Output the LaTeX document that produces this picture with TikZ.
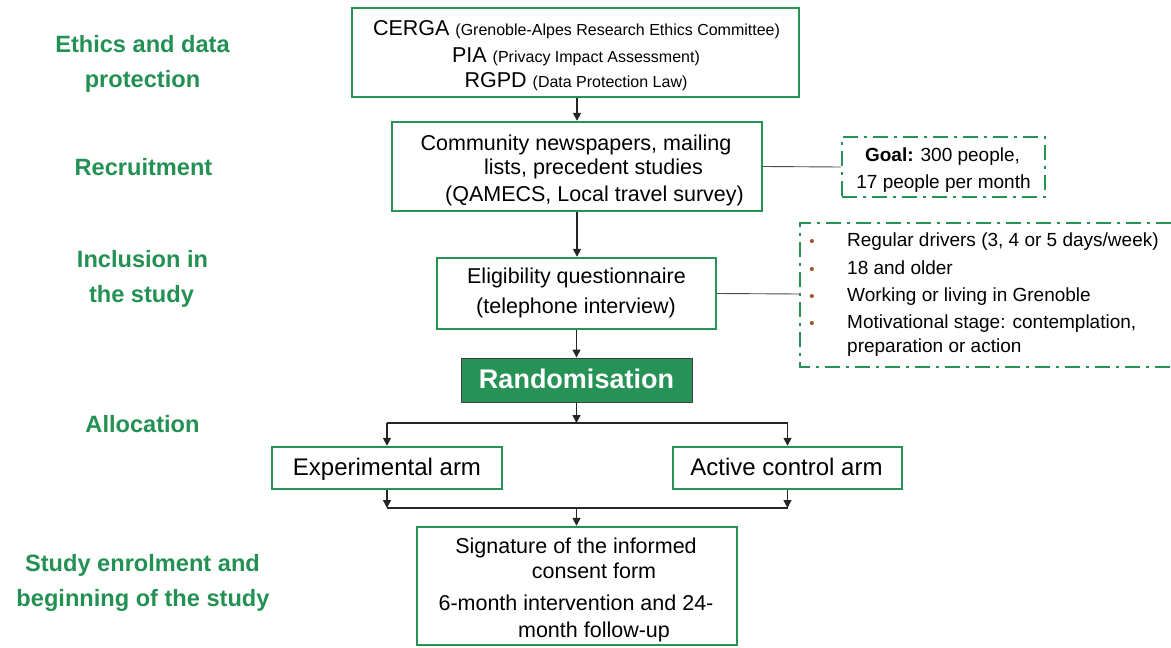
\documentclass[tikz,border=0pt]{standalone}
\usepackage{fontspec}
\setmainfont{Liberation Sans}
\usetikzlibrary{arrows.meta,calc}
\definecolor{G}{RGB}{38,146,86}
\definecolor{Gtext}{RGB}{36,145,84}
\definecolor{bulletbrown}{RGB}{160,82,45}
\newcommand{\fs}[1]{\fontsize{#1}{#1}\selectfont}
\tikzset{
  x=1pt, y=-1pt,
  gbox/.style={draw=G, line width=2.4pt, inner sep=0pt},
  ddbox/.style={draw=G, line width=2.4pt, dash pattern=on 15pt off 6pt on 3pt off 6pt},
  txt/.style={inner sep=0pt, anchor=base, font=\fs{21.5}},
  lab/.style={inner sep=0pt, anchor=base, text=Gtext, font=\fs{23.6}\bfseries},
  crit/.style={inner sep=0pt, anchor=base west, font=\fs{19}},
  bul/.style={inner sep=0pt, anchor=base, text=bulletbrown, font=\fs{15}},
  arr/.style={draw=black!85, line width=1.6pt, -{Triangle[length=8pt,width=8pt]}},
  plain/.style={draw=black!85, line width=2.2pt},
  thin/.style={draw=black!70, line width=0.9pt},
}
\begin{document}
\begin{tikzpicture}
\useasboundingbox[fill=white] (0,0) rectangle (1171,648);

% left stage labels
\node[lab] (l1a) at (142.5,52) {Ethics and data};
\node[lab] (l1b) at (142.5,87) {protection};
\node[lab] (l2) at (143.5,175) {Recruitment};
\node[lab] (l3a) at (142.5,267) {Inclusion in};
\node[lab] (l3b) at (141.5,302) {the study};
\node[lab] (l4) at (142.5,432) {Allocation};
\node[lab] (l5a) at (142.5,571) {Study enrolment and};
\node[lab] (l5b) at (143,606) {beginning of the study};

% boxes
\node[gbox, minimum width=447, minimum height=89] (cerga) at (575.5,52.5) {};
\node[gbox, minimum width=370, minimum height=89] (comm) at (577,166.5) {};
\node[ddbox, minimum width=203, minimum height=60] (goal) at (943.5,167) {};
\node[gbox, minimum width=279, minimum height=71] (elig) at (576.5,293.5) {};
\node[draw=black!75, line width=1pt, fill=G, minimum width=231, minimum height=44] (rand) at (576.5,380) {};
\node[gbox, minimum width=230, minimum height=42] (exp) at (387,468) {};
\node[gbox, minimum width=229, minimum height=42] (act) at (787.5,468) {};
\node[gbox, minimum width=320, minimum height=118] (sig) at (577,586) {};

% criteria box (open on the right, cut by the page edge)
\coordinate (critL) at (800,294);
\draw[ddbox] (1171,223) -- (800,223) -- (800,367) -- (1171,367);

% texts in boxes
\node[txt] (t1) at (576.5,35) {CERGA {\fs{16}(Grenoble-Alpes Research Ethics Committee)}};
\node[txt] (t2) at (576,62) {PIA {\fs{16}(Privacy Impact Assessment)}};
\node[txt] (t3) at (576,87) {RGPD {\fs{16}(Data Protection Law)}};

\node[txt] (c1) at (576,150) {Community newspapers, mailing};
\node[txt] (c2) at (593.5,174) {lists, precedent studies};
\node[txt] (c3) at (594.5,201) {(QAMECS, Local travel survey)};

\node[txt, font=\fs{19}] (g1) at (942.5,161) {\textbf{Goal:} 300 people,};
\node[txt, font=\fs{19}] (g2) at (943.5,188) {17 people per month};

\node[bul] (b1) at (812,246.5) {•};
\node[bul] (b2) at (812,274) {•};
\node[bul] (b3) at (812,301) {•};
\node[bul] (b4) at (812,328) {•};
\node[crit] (k1) at (847,246.5) {Regular drivers (3, 4 or 5 days/week)};
\node[crit] (k2) at (847,274) {18 and older};
\node[crit] (k3) at (847,301) {Working or living in Grenoble};
\node[crit] (k4) at (847,328) {Motivational stage: contemplation,};
\node[crit] (k5) at (847,352) {preparation or action};

\node[txt] (e1) at (576.5,283) {Eligibility questionnaire};
\node[txt] (e2) at (576,313) {(telephone interview)};

\node[txt, text=white, font=\fs{27}\bfseries] (r1) at (576.5,388.5) {Randomisation};

\node[txt, font=\fs{24}] (x1) at (387,475.5) {Experimental arm};
\node[txt, font=\fs{24}] (a1) at (786.5,475.5) {Active control arm};

\node[txt] (s1) at (576,553) {Signature of the informed};
\node[txt] (s2) at (594,578) {consent form};
\node[txt] (s3) at (576,610) {6-month intervention and 24-};
\node[txt] (s4) at (594,637) {month follow-up};

% connectors
\draw[arr] (cerga.south -| comm.north) -- (comm.north);
\draw[arr] (comm.south) -- (comm.south |- elig.north);
\draw[arr] (elig.south -| rand.north) -- (rand.north);

\coordinate (split) at (576.5,423);
\coordinate (merge) at (576.5,508);
\draw[arr] (rand.south) -- (split);
\draw[plain] (exp.north |- split) -- (act.north |- split);
\draw[arr] (exp.north |- split) -- (exp.north);
\draw[arr] (act.north |- split) -- (act.north);
\draw[plain] (exp.south |- merge) -- (act.south |- merge);
\draw[arr] (exp.south) -- (exp.south |- merge);
\draw[arr] (act.south) -- (act.south |- merge);
\draw[arr] (merge) -- (merge |- sig.north);

\draw[thin] (comm.east) -- (goal.west);
\draw[thin] (elig.east) -- (critL);
\end{tikzpicture}
\end{document}
